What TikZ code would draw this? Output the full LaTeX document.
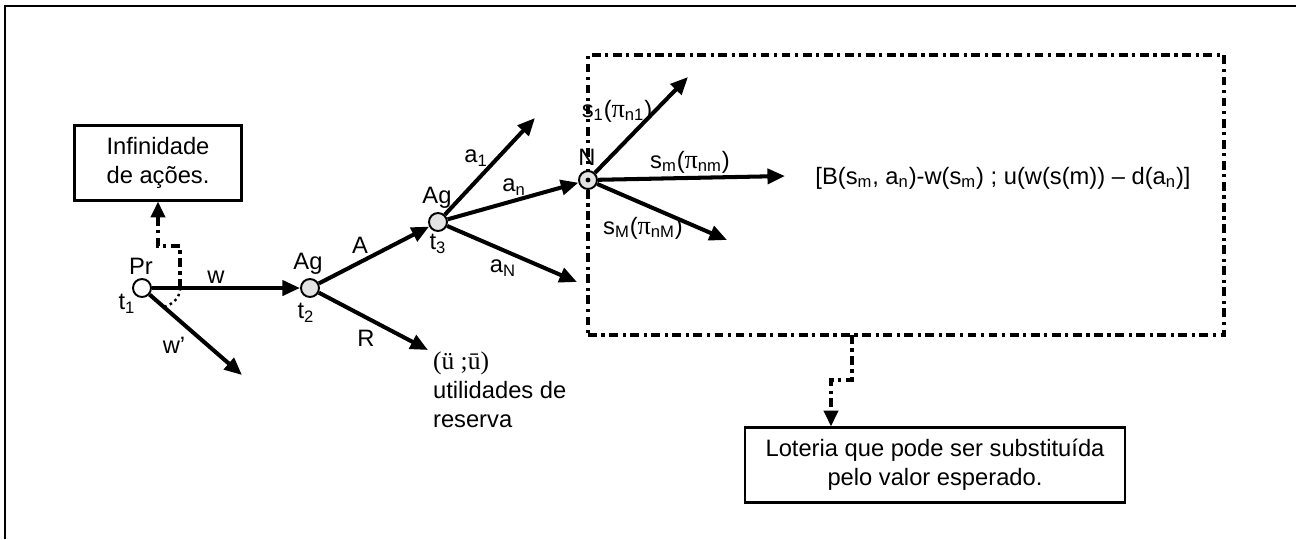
\documentclass[tikz,border=0pt]{standalone}
\usepackage{fontspec}
\setmainfont{Liberation Sans}
\newfontfamily\serifrm{Liberation Serif}
\usetikzlibrary{arrows.meta}

\begin{document}
\begin{tikzpicture}[
  x=0.02cm, y=-0.02cm,
  font=\fontsize{13.5}{16.5}\selectfont,
  state/.style={draw, circle, line width=1.1pt, minimum size=0.36cm, inner sep=0pt, fill=gray!22},
  start/.style={state, fill=white},
  note/.style={draw, line width=1.2pt, align=center, inner sep=2pt},
  branch/.style={line width=2.3pt, -{Triangle[length=10pt, width=8.5pt]}},
  dashdot/.style={line width=2pt, dash pattern=on 5pt off 2.6pt on 1.8pt off 2.6pt},
  link/.style={dashdot, -{Triangle[length=9pt, width=8pt]}},
  lbl/.style={inner sep=1pt}
]
\useasboundingbox (0,0) rectangle (1296,539);

% Outer frame
\draw[line width=0.9pt] (5,539) -- (5,6) -- (1296,6);

% Lottery region
\node[draw, dashdot, minimum width=12.72cm, minimum height=5.6cm, inner sep=0pt] (lotframe) at (906,195) {};

% Decision and chance nodes
\node[start] (pr) at (142,288) {};
\node[state] (ag2) at (310,288) {};
\node[state] (ag3) at (438,222) {};
\node[state] (nat) at (588,180) {};
\node[circle, fill, inner sep=0pt, minimum size=2.8pt] (natdot) at (nat) {};

% Free ends
\coordinate (wpend) at (242,375);
\coordinate (rend) at (428,350);
\coordinate (a1end) at (535,118);
\coordinate (aNend) at (577,282);
\coordinate (s1end) at (688,77);
\coordinate (smend) at (785,176);
\coordinate (sMend) at (727,240);

% Branches
\draw[branch] (pr) -- (ag2);
\draw[branch] (pr) -- (wpend);
\draw[branch] (ag2) -- (ag3);
\draw[branch] (ag2) -- (rend);
\draw[branch] (ag3) -- (a1end);
\draw[branch] (ag3) -- (nat);
\draw[branch] (ag3) -- (aNend);
\draw[branch] (nat) -- (s1end);
\draw[branch] (nat) -- (smend);
\draw[branch] (nat) -- (sMend);

% Node labels
\node[lbl] (lpr) at (141,266) {Pr};
\node[lbl] (lt1) at (127,304) {t\textsubscript{1}};
\node[lbl] (lag2) at (308,264) {Ag};
\node[lbl] (lt2) at (306,313) {t\textsubscript{2}};
\node[lbl] (lag3) at (437,198) {Ag};
\node[lbl] (lt3) at (438,244) {t\textsubscript{3}};
\node[lbl] (lnat) at (587,157) {N};

% Branch labels
\node[lbl] (lw) at (216,277) {w};
\node[lbl] (lwp) at (174,345) {w\char"27};
\node[lbl] (lA) at (360,245) {A};
\node[lbl] (lR) at (366,338) {R};
\node[lbl] (la1) at (476,158) {a\textsubscript{1}};
\node[lbl] (lan) at (514,187) {a\textsubscript{n}};
\node[lbl] (laN) at (503,268) {a\textsubscript{N}};
\node[lbl] (ls1) at (617,111) {s\textsubscript{1}({\serifrm\fontsize{15}{16}\selectfont π}\textsubscript{n1})};
\node[lbl] (lsm) at (690,162) {s\textsubscript{m}({\serifrm\fontsize{15}{16}\selectfont π}\textsubscript{nm})};
\node[lbl] (lsM) at (643,228) {s\textsubscript{M}({\serifrm\fontsize{15}{16}\selectfont π}\textsubscript{nM})};

% Outcomes
\node[lbl, anchor=west, align=left] (reserva) at (431,390) {{\serifrm\fontsize{14.5}{16.5}\selectfont (ü ;ū)}\\utilidades de\\reserva};
\node[lbl] (payoff) at (1003,178) {[B(s\textsubscript{m}, a\textsubscript{n})-w(s\textsubscript{m}) ; u(w(s(m)) – d(a\textsubscript{n})]};

% Notes
\node[note, minimum width=3.34cm, minimum height=1.5cm] (infin) at (158,163) {Infinidade\\de ações.};
\node[note, minimum width=7.6cm, minimum height=1.5cm] (loteria) at (935,465) {Loteria que pode ser substituída\\pelo valor esperado.};

% Note connectors
\coordinate (arctop) at (180,288);
\coordinate (arcend) at (164,307);
\coordinate (bendpr) at (158,246);
\draw[dotted, line width=1.4pt] (arctop) .. controls (180,298) and (173,304) .. (arcend);
\draw[link] (arctop) |- (bendpr) -- (infin);

\coordinate (drop) at (852,335);
\coordinate (bendlot) at (831,380);
\draw[link] (drop) |- (bendlot) -- (bendlot |- loteria.north);
\end{tikzpicture}
\end{document}
